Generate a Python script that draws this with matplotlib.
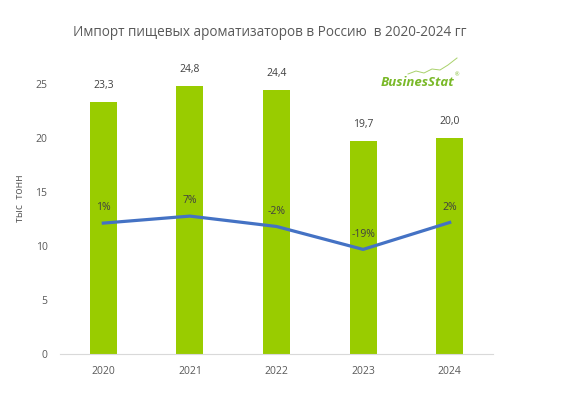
import numpy as np
import matplotlib.pyplot as plt

years = ["2020", "2021", "2022", "2023", "2024"]
volume = [23.3, 24.8, 24.4, 19.7, 20.0]
growth = [1.0, 6.4, -1.6, -19.3, 1.5]
volume_labels = ["23,3", "24,8", "24,4", "19,7", "20,0"]
growth_labels = ["1%", "7%", "-2%", "-19%", "2%"]

plt.rcParams['font.family'] = ['Open Sans', 'DejaVu Sans']
txt = "#595959"

fig = plt.figure(figsize=(5.8, 3.98), dpi=100)
ax = fig.add_axes([60 / 580, 44 / 398, 433 / 580, 324 / 398])
x = np.arange(len(years))

ax.bar(x, volume, width=0.31, color="#99CC00", zorder=2)
for xi, v, lab in zip(x, volume, volume_labels):
    ax.annotate(lab, (xi, v), xytext=(0, 8), textcoords="offset points",
                ha="center", va="bottom", fontsize=7.5, color="#404040")

ax.set_xlim(-0.5, len(years) - 0.5)
ax.set_ylim(0, 30)
ax.set_yticks([0, 5, 10, 15, 20, 25])
ax.set_xticks(x)
ax.set_xticklabels(years)
ax.tick_params(axis="both", length=0, labelsize=7.5, colors=txt)
ax.tick_params(axis="y", pad=9)
ax.tick_params(axis="x", pad=9)
for s in ["top", "right", "left"]:
    ax.spines[s].set_visible(False)
ax.spines["bottom"].set_color("#d9d9d9")
ax.set_ylabel("тыс  тонн", fontsize=7.5, color=txt)
ax.yaxis.set_label_coords(-34 / 433, 0.48)

ax2 = ax.twinx()
ax2.plot(x, growth, color="#4472C4", lw=2.3, zorder=3)
ax2.set_ylim(-100, 150)
ax2.axis("off")
for xi, g, lab in zip(x, growth, growth_labels):
    ax2.annotate(lab, (xi, g), xytext=(0, 7), textcoords="offset points",
                 ha="center", va="bottom", fontsize=7.5, color="#404040")

fig.text(270 / 580, 1 - 32 / 398, "Импорт пищевых ароматизаторов в Россию  в 2020-2024 гг",
         ha="center", va="center", fontsize=9.8, color=txt)

# logo
fig.text(381 / 580, 1 - 83 / 398, "BusinesStat", fontsize=9.5, color="#7AB929",
         fontweight="bold", fontstyle="italic", ha="left", va="center")
fig.text(455 / 580, 1 - 75 / 398, "®", fontsize=4, color="#7AB929",
         ha="left", va="center")
cx = np.array([408, 416, 424, 432, 440, 448, 457]) / 580
cy = 1 - np.array([74, 71, 73, 69, 70, 65, 58]) / 398
fig.add_artist(plt.Line2D(cx, cy, color="#A9D16B", lw=0.7))

fig.savefig("out.png", dpi=100)
